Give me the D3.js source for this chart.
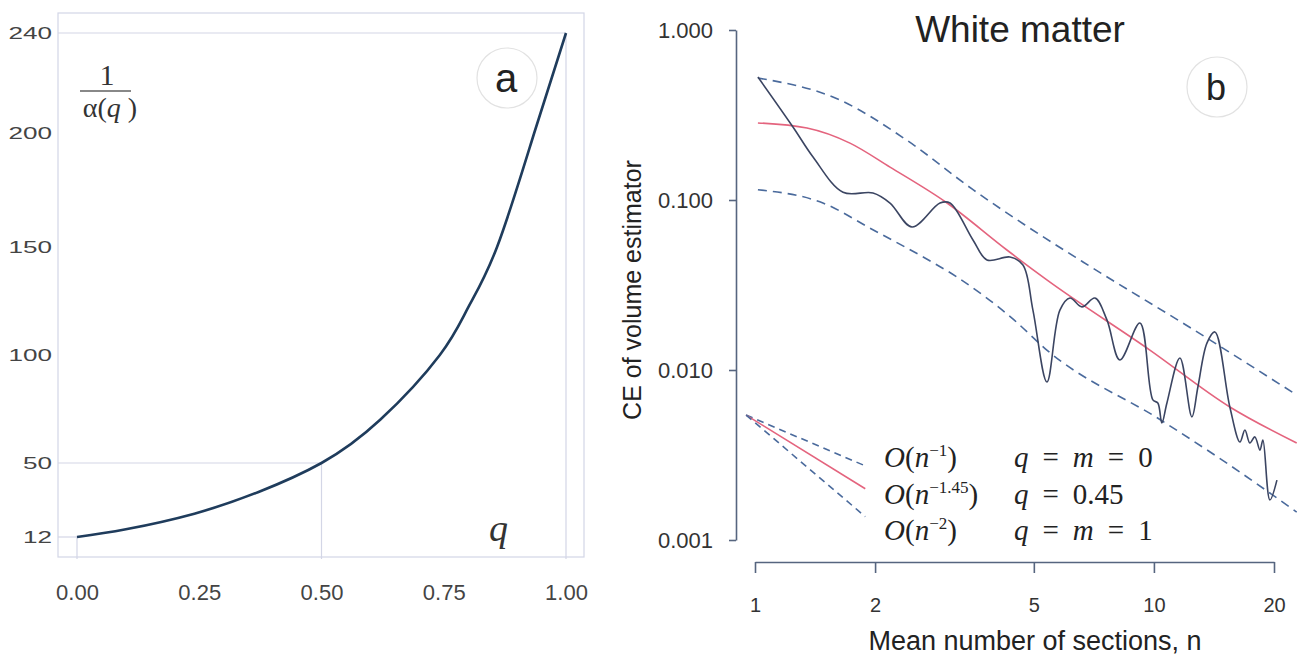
<!DOCTYPE html>
<html>
<head>
<meta charset="utf-8">
<script src="https://cdn.jsdelivr.net/npm/d3@7"></script>
<style>
body { margin: 0; background: #fff; }
svg { display: block; }
</style>
</head>
<body>
<svg width="1298" height="659"></svg>
<script>

// ---- panel a : 1/alpha(q) ----
var qValues  = [0, 0.1, 0.24, 0.37, 0.5, 0.62, 0.742, 0.8, 0.859, 0.935, 1];
var invAlpha = [12, 16, 24, 35, 50, 70, 100, 122, 150, 200, 240];
var aTicksX = [0, 0.25, 0.5, 0.75, 1];
var aTicksY = [12, 50, 100, 150, 200, 240];
var aGuideQ = [0, 0.5, 1];
var aGuideV = [12, 50, 240];

// ---- panel b : CE of volume estimator, White matter ----
var nBlack  = [1.017, 1.245, 1.398, 1.662, 1.976, 2.18, 2.475, 2.909, 3.082, 3.519, 3.815, 4.356, 4.696, 4.974, 5.393,
               5.812, 6.159, 6.6, 7.114, 7.625, 8.218, 9.224, 9.94, 10.23, 10.47, 10.78, 11.62, 12.45, 12.89, 13.58,
               14.22, 15.5, 16.43, 16.91, 17.4, 17.91, 18.44, 18.76, 19.53, 20.34];
var ceBlack = [0.529, 0.269, 0.179, 0.111, 0.110, 0.096, 0.0694, 0.096, 0.096, 0.0582, 0.0444, 0.0462, 0.0415, 0.0225, 0.0085,
               0.0225, 0.0265, 0.0235, 0.0265, 0.0197, 0.01145, 0.0189, 0.00667, 0.0064, 0.00488, 0.0064, 0.01177, 0.0053, 0.00794, 0.0144,
               0.01675, 0.00606, 0.00377, 0.00444, 0.00372, 0.00404, 0.00338, 0.00387, 0.00172, 0.00225];
var nRed    = [1.017, 1.35, 1.73, 2.18, 3.03, 4.28, 5.39, 9.77, 15.5, 22.8];
var ceRed   = [0.284, 0.265, 0.216, 0.156, 0.096, 0.0508, 0.0339, 0.0131, 0.00606, 0.00372];
var nUpper  = [1.017, 1.63, 2.4, 3.52, 4.75, 6.64, 12.5, 22.8];
var ceUpper = [0.522, 0.388, 0.225, 0.115, 0.0713, 0.0432, 0.0174, 0.00713];
var nLower  = [1.017, 1.48, 1.98, 2.64, 3.21, 4.46, 5.39, 10.4, 15.2, 22.8];
var ceLower = [0.115, 0.096, 0.0666, 0.0462, 0.0352, 0.0197, 0.0131, 0.00508, 0.00284, 0.00146];
var bTicksX = [1, 2, 5, 10, 20];
var bTicksY = [1, 0.1, 0.01, 0.001];

// slope legend: O(n^-1), O(n^-1.45), O(n^-2)
var legendSlope = [1, 1.45, 2];
var legendSup   = ["\u22121", "\u22121.45", "\u22122"];
var legendRhs   = ["q = m = 0", "q = 0.45", "q = m = 1"];
var legendN0 = 0.95, legendN1 = 1.89, legendCE0 = 0.00543;

var svg = d3.select("svg");
var sans = "'Liberation Sans', Arial, sans-serif",
    serif = "'Liberation Serif', 'Times New Roman', serif",
    frameCol = "#d3d6e6";

// ================= panel a =================
var xA = d3.scaleLinear().domain([0, 1]).range([77, 566]);
var yA = d3.scaleLinear().domain(aTicksY).range([537, 463, 355, 247, 133, 33]);

var pa = svg.append("g");

pa.append("rect")
    .attr("x", 58).attr("y", 13).attr("width", 526).attr("height", 544)
    .attr("fill", "none").attr("stroke", frameCol).attr("stroke-width", 1.2);

// guide lines at q = 0, 0.5, 1
aGuideQ.forEach(function(q, i) {
  var v = aGuideV[i];
  pa.append("line")
      .attr("x1", 58).attr("x2", xA(q)).attr("y1", yA(v)).attr("y2", yA(v))
      .attr("stroke", frameCol).attr("stroke-width", 1.2);
  pa.append("line")
      .attr("x1", xA(q)).attr("x2", xA(q)).attr("y1", yA(v)).attr("y2", 559)
      .attr("stroke", frameCol).attr("stroke-width", 1.2);
});

var axA = pa.append("g").attr("transform", "translate(0,557)")
    .call(d3.axisBottom(xA).tickValues(aTicksX).tickFormat(d3.format(".2f")).tickSize(0).tickPadding(27));
axA.select(".domain").remove();
axA.selectAll("text").attr("font-family", sans).attr("font-size", 22).attr("fill", "#444");

var ayA = pa.append("g").attr("transform", "translate(58,0)")
    .call(d3.axisLeft(yA).tickValues(aTicksY).tickFormat(d3.format("d")).tickSize(0).tickPadding(6));
ayA.select(".domain").remove();
ayA.selectAll("text")
    .attr("font-family", sans).attr("font-size", 16).attr("fill", "#444")
    .attr("textLength", function(d) { return String(d).length * 14.5; })
    .attr("lengthAdjust", "spacingAndGlyphs");

var lineA = d3.line()
    .x(function(d) { return xA(d[0]); })
    .y(function(d) { return yA(d[1]); })
    .curve(d3.curveNatural);

pa.append("path")
    .datum(qValues.map(function(q, i) { return [q, invAlpha[i]]; }))
    .attr("d", lineA)
    .attr("fill", "none").attr("stroke", "#1f3c5c").attr("stroke-width", 2.6);

// 1 / alpha(q) label
pa.append("text").attr("x", 107).attr("y", 85).attr("text-anchor", "middle")
    .attr("font-family", serif).attr("font-size", 30).attr("fill", "#333").text("1");
pa.append("line").attr("x1", 80).attr("x2", 131).attr("y1", 91).attr("y2", 91)
    .attr("stroke", "#888").attr("stroke-width", 2);
var al = pa.append("text").attr("x", 110).attr("y", 117).attr("text-anchor", "middle")
    .attr("font-family", serif).attr("font-size", 28).attr("fill", "#333");
al.append("tspan").text("\u03b1(");
al.append("tspan").attr("font-style", "italic").text("q");
al.append("tspan").text(" )");

pa.append("text").attr("x", 489).attr("y", 541)
    .attr("font-family", serif).attr("font-style", "italic").attr("font-size", 38)
    .attr("fill", "#333").text("q");

pa.append("circle").attr("cx", 507).attr("cy", 78).attr("r", 30)
    .attr("fill", "none").attr("stroke", "#e2e2e2").attr("stroke-width", 1.2);
pa.append("text").attr("x", 506).attr("y", 92).attr("text-anchor", "middle")
    .attr("font-family", sans).attr("font-size", 40).attr("fill", "#222").text("a");

// ================= panel b =================
var xB = d3.scaleLog().domain([1, 20]).range([755, 1274]);
var yB = d3.scaleLog().domain([1, 0.001]).range([30, 540]);
var axisCol = "#56657f";

var pb = svg.append("g");

var axB = pb.append("g").attr("transform", "translate(0,562)")
    .call(d3.axisBottom(xB).tickValues(bTicksX).tickFormat(d3.format("d")).tickSize(11).tickSizeOuter(0).tickPadding(25));
axB.select(".domain").attr("stroke", axisCol).attr("stroke-width", 1.6);
axB.selectAll(".tick line").attr("stroke", axisCol).attr("stroke-width", 1.6);
axB.selectAll("text").attr("font-family", sans).attr("font-size", 20).attr("fill", "#333");

var ayB = pb.append("g").attr("transform", "translate(736,0)")
    .call(d3.axisLeft(yB).tickValues(bTicksY).tickFormat(d3.format(".3f")).tickSize(7).tickSizeOuter(0).tickPadding(16));
ayB.select(".domain").attr("stroke", axisCol).attr("stroke-width", 1.6);
ayB.selectAll(".tick line").attr("stroke", axisCol).attr("stroke-width", 1.6);
ayB.selectAll("text").attr("font-family", sans).attr("font-size", 22).attr("fill", "#333");

pb.append("text").attr("x", 1020).attr("y", 42).attr("text-anchor", "middle")
    .attr("font-family", sans).attr("font-size", 37).attr("fill", "#222").text("White matter");
pb.append("text").attr("x", 1035).attr("y", 650).attr("text-anchor", "middle")
    .attr("font-family", sans).attr("font-size", 27).attr("fill", "#222").text("Mean number of sections, n");
pb.append("text").attr("transform", "translate(641,290) rotate(-90)").attr("text-anchor", "middle")
    .attr("font-family", sans).attr("font-size", 25).attr("fill", "#222").text("CE of volume estimator");

pb.append("circle").attr("cx", 1217).attr("cy", 87).attr("r", 30)
    .attr("fill", "none").attr("stroke", "#e2e2e2").attr("stroke-width", 1.2);
pb.append("text").attr("x", 1216).attr("y", 100).attr("text-anchor", "middle")
    .attr("font-family", sans).attr("font-size", 36).attr("fill", "#222").text("b");

var lineB = d3.line()
    .x(function(d) { return xB(d[0]); })
    .y(function(d) { return yB(d[1]); });

function pairs(ns, vs) { return ns.map(function(n, i) { return [n, vs[i]]; }); }

var dashStyle = {stroke: "#4a6a9c", width: 1.6, dash: "9,6"};

pb.append("path").datum(pairs(nUpper, ceUpper))
    .attr("d", lineB.curve(d3.curveMonotoneX))
    .attr("fill", "none").attr("stroke", dashStyle.stroke).attr("stroke-width", dashStyle.width)
    .attr("stroke-dasharray", dashStyle.dash);
pb.append("path").datum(pairs(nLower, ceLower))
    .attr("d", lineB.curve(d3.curveMonotoneX))
    .attr("fill", "none").attr("stroke", dashStyle.stroke).attr("stroke-width", dashStyle.width)
    .attr("stroke-dasharray", dashStyle.dash);
pb.append("path").datum(pairs(nRed, ceRed))
    .attr("d", lineB.curve(d3.curveMonotoneX))
    .attr("fill", "none").attr("stroke", "#e4647e").attr("stroke-width", 1.6);
pb.append("path").datum(pairs(nBlack, ceBlack))
    .attr("d", lineB.curve(d3.curveCatmullRom.alpha(0.5)))
    .attr("fill", "none").attr("stroke", "#3b4562").attr("stroke-width", 1.6);

// slope legend lines
legendSlope.forEach(function(s, i) {
  var ce1 = legendCE0 * Math.pow(legendN1 / legendN0, -s);
  var l = pb.append("line")
      .attr("x1", xB(legendN0)).attr("y1", yB(legendCE0))
      .attr("x2", xB(legendN1)).attr("y2", yB(ce1))
      .attr("stroke-width", 1.6);
  if (i === 1) l.attr("stroke", "#e4647e");
  else l.attr("stroke", dashStyle.stroke).attr("stroke-dasharray", "7,5");
});

legendSup.forEach(function(sup, i) {
  var y = 467 + i * 36.5;
  var t = pb.append("text").attr("x", 884).attr("y", y)
      .attr("font-family", serif).attr("font-size", 29).attr("fill", "#222");
  t.append("tspan").attr("font-style", "italic").text("O");
  t.append("tspan").text("(");
  t.append("tspan").attr("font-style", "italic").text("n");
  t.append("tspan").attr("font-size", 17).attr("dy", -11).text(sup);
  t.append("tspan").attr("dy", 11).text(")");

  var r = pb.append("text").attr("x", 1014).attr("y", y)
      .attr("font-family", serif).attr("font-size", 29).attr("fill", "#222");
  var parts = legendRhs[i].split(" ");
  parts.forEach(function(p, j) {
    r.append("tspan")
        .attr("dx", j === 0 ? 0 : 14)
        .attr("font-style", /^[a-z]$/.test(p) ? "italic" : "normal")
        .text(p);
  });
});

</script>
</body>
</html>
